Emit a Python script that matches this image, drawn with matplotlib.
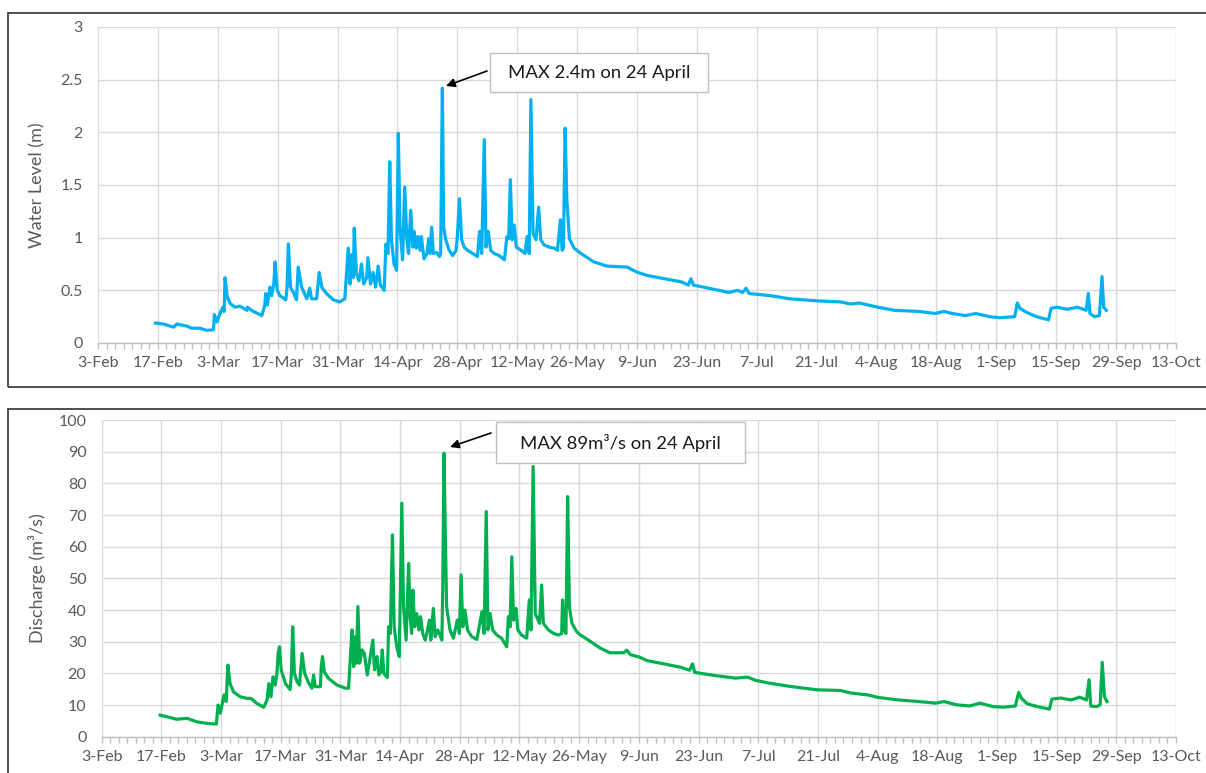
import datetime as dt
import matplotlib
matplotlib.use("Agg")
import matplotlib.pyplot as plt
import matplotlib.dates as mdates
from matplotlib.ticker import FuncFormatter
from matplotlib.patches import Rectangle

plt.rcParams['font.family'] = ['Lato', 'DejaVu Sans']

# ---------------- data (days after 3-Feb) ----------------
level_days = [13.4, 15.3, 17.7, 18.4, 20.8, 21.9, 23.9, 25.4, 27.0, 27.2, 27.8, 28.5,
              29.2, 29.5, 29.7, 30.2, 30.9, 32.0, 33.2, 34.8, 34.9, 36.3, 37.9, 38.3,
              39.0, 39.2, 39.6, 40.2, 40.6, 41.1, 41.4, 41.9, 42.5, 43.9, 44.2, 44.5,
              45.0, 45.8, 46.4, 46.8, 47.6, 48.8, 49.5, 49.9, 51.1, 51.7, 52.3, 53.4,
              55.0, 56.5, 57.7, 58.1, 58.5, 58.9, 59.3, 59.7, 59.9, 60.4, 61.0, 61.6,
              62.1, 62.8, 63.1, 63.7, 64.3, 64.9, 65.5, 66.0, 66.9, 67.3, 67.8, 68.2,
              68.6, 69.2, 69.8, 70.2, 70.6, 71.2, 71.7, 72.2, 72.6, 73.1, 73.6, 73.9,
              74.4, 74.8, 75.3, 75.6, 76.2, 76.9, 77.3, 77.6, 78.0, 78.4, 79.2, 79.8,
              80.1, 80.5, 80.8, 81.3, 82.1, 82.9, 83.7, 84.0, 84.5, 85.0, 85.6, 86.4,
              87.6, 88.7, 89.2, 89.7, 90.3, 90.7, 91.2, 91.8, 92.6, 93.8, 95.0, 95.6,
              96.0, 96.4, 96.8, 97.3, 97.8, 98.9, 99.8, 100.3, 100.8, 101.2, 101.7, 102.4,
              103.0, 103.5, 104.3, 105.5, 106.7, 107.4, 108.1, 108.5, 108.8, 109.2, 109.6, 110.2,
              111.3, 112.9, 115.9, 119.0, 123.8, 124.6, 126.2, 128.5, 132.5, 136.4, 138.0, 138.6,
              139.2, 142.8, 147.5, 149.5, 150.7, 151.5, 152.2, 157.0, 161.7, 168.1, 173.6, 176.0,
              177.9, 182.3, 186.2, 191.8, 195.7, 197.7, 199.7, 202.8, 205.2, 208.4, 210.8, 214.3,
              214.9, 215.5, 217.1, 219.4, 222.2, 222.8, 224.2, 226.6, 229.0, 231.0, 231.5, 231.9,
              232.9, 234.1, 234.7, 235.1, 235.7]
level_values = [0.19, 0.18, 0.15, 0.18, 0.16, 0.14, 0.14, 0.12, 0.125, 0.27, 0.20, 0.28,
                0.34, 0.30, 0.62, 0.44, 0.375, 0.34, 0.35, 0.31, 0.34, 0.30, 0.27, 0.26,
                0.36, 0.47, 0.36, 0.53, 0.45, 0.56, 0.77, 0.50, 0.45, 0.41, 0.53, 0.94,
                0.53, 0.47, 0.41, 0.72, 0.53, 0.42, 0.52, 0.42, 0.42, 0.67, 0.53, 0.47,
                0.41, 0.39, 0.42, 0.66, 0.90, 0.56, 0.84, 0.62, 1.09, 0.66, 0.59, 0.75,
                0.56, 0.62, 0.81, 0.56, 0.67, 0.53, 0.73, 0.55, 0.50, 0.94, 0.85, 1.72,
                0.98, 0.75, 0.69, 1.99, 1.10, 0.79, 1.48, 0.98, 0.85, 1.26, 0.91, 1.06,
                0.90, 1.01, 0.88, 1.01, 0.80, 0.85, 0.99, 0.85, 1.10, 0.85, 0.86, 0.82,
                0.85, 2.42, 1.10, 0.98, 0.88, 0.83, 0.88, 1.01, 1.37, 0.98, 0.91, 0.88,
                0.85, 0.82, 1.06, 0.85, 1.93, 0.91, 1.06, 0.88, 0.85, 0.83, 0.79, 1.01,
                0.99, 1.55, 0.98, 1.12, 0.91, 0.88, 0.85, 1.01, 0.85, 2.31, 1.04, 0.98,
                1.29, 0.98, 0.93, 0.91, 0.90, 0.88, 1.17, 0.88, 0.90, 2.04, 1.36, 0.99,
                0.90, 0.85, 0.77, 0.73, 0.72, 0.70, 0.67, 0.64, 0.61, 0.58, 0.55, 0.61,
                0.55, 0.52, 0.48, 0.50, 0.48, 0.52, 0.47, 0.45, 0.42, 0.40, 0.39, 0.37,
                0.38, 0.34, 0.31, 0.30, 0.28, 0.30, 0.28, 0.26, 0.28, 0.25, 0.24, 0.25,
                0.38, 0.33, 0.29, 0.25, 0.22, 0.33, 0.34, 0.32, 0.34, 0.31, 0.47, 0.28,
                0.25, 0.26, 0.63, 0.34, 0.31]

discharge_days = [13.7, 15.3, 17.6, 20.0, 22.3, 24.7, 26.9, 27.3, 27.8, 28.7, 29.2, 29.6,
                  30.1, 30.9, 32.5, 34.1, 35.0, 36.4, 38.0, 38.8, 39.2, 39.7, 40.2, 40.7,
                  41.1, 41.4, 41.7, 42.1, 43.1, 44.2, 44.5, 44.8, 45.2, 45.8, 46.4, 47.0,
                  47.6, 48.6, 49.3, 49.7, 50.1, 51.3, 51.5, 51.8, 52.2, 53.2, 55.2, 57.2,
                  57.9, 58.3, 58.7, 59.1, 59.5, 59.7, 60.1, 60.5, 61.1, 61.6, 62.3, 63.0,
                  63.6, 64.0, 64.6, 65.0, 65.5, 65.8, 66.2, 67.0, 67.3, 67.7, 68.2, 68.6,
                  69.2, 69.8, 70.4, 70.8, 71.4, 72.0, 72.3, 72.7, 73.0, 73.4, 73.9, 74.4,
                  74.8, 75.3, 75.9, 76.4, 76.9, 77.2, 77.8, 78.2, 78.8, 79.2, 79.8, 80.0,
                  80.3, 80.6, 80.9, 81.7, 82.5, 83.4, 83.9, 84.3, 84.7, 85.2, 85.8, 86.8,
                  88.0, 89.2, 89.7, 90.2, 90.6, 91.1, 91.7, 92.7, 93.8, 95.0, 95.4, 95.8,
                  96.2, 96.6, 97.2, 97.6, 98.5, 99.7, 100.3, 100.7, 101.2, 101.7, 102.7, 103.2,
                  103.6, 104.8, 106.0, 107.1, 107.9, 108.1, 108.5, 108.9, 109.3, 109.7, 110.3, 111.4,
                  112.1, 114.5, 116.9, 119.2, 122.4, 123.2, 124.0, 126.0, 128.0, 131.9, 135.9, 137.9,
                  138.6, 139.1, 143.9, 148.7, 151.5, 153.4, 156.6, 161.4, 167.8, 173.3, 175.7, 179.7,
                  182.1, 186.9, 191.6, 195.6, 197.6, 200.4, 203.6, 206.0, 209.1, 211.5, 214.3, 215.1,
                  215.7, 217.1, 219.5, 222.3, 222.9, 225.0, 227.4, 229.4, 231.0, 231.6, 232.0, 233.4,
                  234.2, 234.7, 235.2, 235.8]
discharge_values = [6.8, 6.3, 5.5, 5.8, 4.7, 4.2, 4.0, 10.0, 7.4, 13.2, 11.1, 22.6,
                    16.8, 14.2, 12.6, 12.1, 12.1, 10.5, 9.3, 11.6, 16.8, 12.6, 18.9, 16.3,
                    20.0, 26.3, 28.4, 21.1, 16.8, 14.9, 20.0, 34.7, 20.0, 17.4, 16.3, 26.3,
                    20.0, 16.8, 15.3, 19.5, 15.8, 15.8, 22.1, 25.3, 20.5, 18.4, 16.3, 15.3,
                    15.3, 24.2, 33.7, 22.1, 31.6, 23.2, 41.1, 23.2, 27.4, 26.3, 19.5, 25.3,
                    30.5, 21.1, 25.3, 19.5, 20.5, 27.4, 20.0, 18.7, 34.7, 32.6, 63.7, 34.7,
                    28.4, 25.3, 73.7, 41.1, 30.5, 54.7, 38.9, 32.6, 46.3, 34.7, 38.9, 33.7,
                    37.9, 32.6, 30.5, 33.7, 36.8, 30.5, 40.5, 31.6, 33.7, 32.6, 30.5, 47.4,
                    89.5, 64.2, 41.1, 33.7, 31.1, 36.8, 32.6, 51.1, 34.7, 40.0, 33.7, 31.6,
                    30.7, 39.5, 32.6, 71.1, 33.7, 38.9, 33.7, 32.1, 31.1, 28.4, 37.9, 34.7,
                    56.8, 36.8, 40.5, 33.7, 32.1, 31.1, 43.2, 33.7, 85.3, 38.9, 35.8, 47.9,
                    35.8, 33.7, 32.6, 32.1, 32.6, 43.2, 33.7, 32.6, 75.8, 41.1, 35.8, 33.2,
                    32.3, 30.2, 28.0, 26.5, 26.5, 27.3, 25.9, 25.2, 24.0, 23.0, 21.9, 21.0,
                    23.0, 20.3, 19.3, 18.5, 18.8, 17.8, 16.9, 15.9, 14.8, 14.6, 13.8, 13.2,
                    12.4, 11.6, 11.1, 10.6, 11.1, 10.1, 9.7, 10.6, 9.5, 9.3, 9.7, 14.0,
                    12.2, 10.4, 9.5, 8.7, 11.9, 12.2, 11.6, 12.5, 11.6, 18.0, 9.7, 9.5,
                    10.1, 23.5, 12.7, 11.1]

start_date = dt.datetime(2023, 2, 3)
end_date = dt.datetime(2023, 10, 13)

level_ticks = [0, 0.5, 1, 1.5, 2, 2.5, 3]
discharge_ticks = [0, 10, 20, 30, 40, 50, 60, 70, 80, 90, 100]

level_label = "MAX 2.4m on 24 April"
discharge_label = "MAX 89m\u00b3/s on 24 April"

# ---------------- figure ----------------
W, H = 1206, 773
fig = plt.figure(figsize=(W / 100, H / 100), dpi=100)

TEXT = '#595959'
GRID = '#d9d9d9'
AXLINE = '#bfbfbf'


def to_dates(days):
    return [start_date + dt.timedelta(days=d) for d in days]


def fmt_date(x, pos=None):
    d = mdates.num2date(x)
    return f"{d.day}-{d.strftime('%b')}"


def style_axis(ax, ticks):
    ax.set_xlim(start_date, end_date)
    ax.set_ylim(ticks[0], ticks[-1])
    ax.set_yticks(ticks)
    ax.yaxis.set_major_formatter(FuncFormatter(lambda v, p: f"{v:g}"))
    ax.set_xticks([mdates.date2num(start_date + dt.timedelta(days=14 * i)) for i in range(19)])
    ax.set_xticks([mdates.date2num(start_date + dt.timedelta(days=2 * i)) for i in range(127)], minor=True)
    ax.xaxis.set_major_formatter(FuncFormatter(fmt_date))
    ax.grid(True, which='major', color=GRID, lw=1.0, zorder=0)
    for s in ['left', 'top', 'right']:
        ax.spines[s].set_visible(False)
    ax.spines['bottom'].set_color(AXLINE)
    ax.spines['bottom'].set_linewidth(1.0)
    ax.tick_params(axis='x', which='both', direction='out', length=4.5, width=1.0,
                   color=AXLINE, labelcolor=TEXT, labelsize=11.5, pad=5)
    ax.tick_params(axis='y', length=0, labelcolor=TEXT, labelsize=11.5, pad=11)
    ax.set_axisbelow(True)


# Top panel
ax1 = fig.add_axes([98 / W, 1 - 343 / H, 1078 / W, 316 / H])
ax1.plot(to_dates(level_days), level_values, color='#00B0F0', lw=2.3, solid_joinstyle='round', zorder=3)
style_axis(ax1, level_ticks)
ax1.set_ylabel("Water Level (m)", color=TEXT, fontsize=13)
ax1.yaxis.set_label_coords((45 - 98) / 1078, 0.5)

# Bottom panel
ax2 = fig.add_axes([101.7 / W, 1 - 736.7 / H, 1074.3 / W, 316.7 / H])
ax2.plot(to_dates(discharge_days), discharge_values, color='#00B050', lw=2.3, solid_joinstyle='round', zorder=3)
style_axis(ax2, discharge_ticks)
ax2.set_ylabel("Discharge (m\u00b3/s)", color=TEXT, fontsize=13)
ax2.yaxis.set_label_coords((46 - 101.7) / 1074.3, 0.5)


def callout(ax, box, text, start, tip):
    x0, y0, w, h = box
    ax.add_patch(Rectangle((x0, y0), w, h, transform=ax.transAxes, facecolor='white',
                           edgecolor='#bfbfbf', lw=1.0, zorder=5))
    ax.text(x0 + w / 2, y0 + h / 2, text, transform=ax.transAxes, ha='center', va='center',
            fontsize=13.3, color='#1a1a1a', zorder=6)
    ax.annotate('', xy=tip, xycoords='axes fraction', xytext=start, textcoords='axes fraction',
                arrowprops=dict(arrowstyle='-|>', color='black', lw=1.2, mutation_scale=13,
                                shrinkA=0, shrinkB=0), zorder=6)


callout(ax1, (0.3636, 0.7943, 0.2023, 0.1234), level_label, (0.3609, 0.8608), (0.3228, 0.8133))
callout(ax2, (0.3670, 0.8642, 0.2318, 0.1295), discharge_label, (0.3624, 0.9590), (0.3242, 0.9147))

# Panel borders
fig.add_artist(Rectangle((8 / W, 1 - 387 / H), 1.0, 374 / H, transform=fig.transFigure,
                         fill=False, edgecolor='#404040', lw=1.3))
fig.add_artist(Rectangle((8 / W, -0.05), 1.0, (773 - 409) / H + 0.05, transform=fig.transFigure,
                         fill=False, edgecolor='#404040', lw=1.3))

fig.savefig("out.png", dpi=100, facecolor='white')
